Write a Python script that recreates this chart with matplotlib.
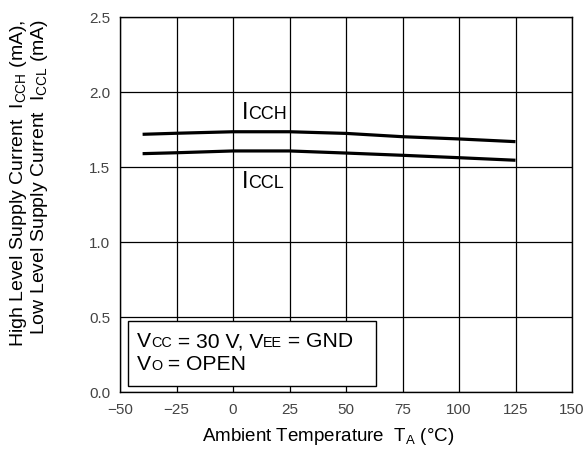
import matplotlib
matplotlib.use("Agg")
import matplotlib.pyplot as plt
from matplotlib.patches import Rectangle
from matplotlib.offsetbox import TextArea, HPacker, VPacker, AnchoredOffsetbox

plt.rcParams["font.family"] = ["Liberation Sans", "DejaVu Sans"]
plt.rcParams["mathtext.fontset"] = "custom"
plt.rcParams["mathtext.rm"] = "Liberation Sans"

# Datos
temp = [-40, -25, 0, 25, 50, 75, 100, 125]
icch = [1.718, 1.725, 1.735, 1.735, 1.724, 1.702, 1.687, 1.669]
iccl = [1.589, 1.595, 1.607, 1.607, 1.593, 1.578, 1.562, 1.545]

x_ticks = [-50, -25, 0, 25, 50, 75, 100, 125, 150]
y_ticks = [0.0, 0.5, 1.0, 1.5, 2.0, 2.5]

fig = plt.figure(figsize=(5.87, 4.64), dpi=100)
ax = fig.add_axes([120 / 587, 71 / 464, 452 / 587, 375 / 464])

ax.plot(temp, icch, color="black", lw=2.3, solid_capstyle="butt", zorder=3)
ax.plot(temp, iccl, color="black", lw=2.3, solid_capstyle="butt", zorder=3)

ax.set_xlim(-50, 150)
ax.set_ylim(0, 2.5)
ax.set_xticks(x_ticks)
ax.set_yticks(y_ticks)
ax.set_xticklabels([str(t).replace("-", "\u2212") for t in x_ticks])
ax.set_yticklabels([f"{v:.1f}" for v in y_ticks])
ax.tick_params(length=0, pad=7, labelsize=11, labelcolor="#444444")
ax.grid(True, color="black", lw=0.9)
for s in ax.spines.values():
    s.set_linewidth(1.0)

ax.set_xlabel(r"Ambient Temperature  T$_{\mathregular{A}}$ (°C)", fontsize=13.5)
ax.xaxis.set_label_coords((328 - 120) / 452, -0.088)

fig.text(29 / 587, 1 - 183 / 464,
         "High Level Supply Current  I$_{\\mathregular{CCH}}$ (mA),\n"
         "Low Level Supply Current  I$_{\\mathregular{CCL}}$ (mA)",
         rotation=90, ha="center", va="center", multialignment="right",
         fontsize=14, linespacing=0.95)


def small_label(parts, size=12, ratio=0.72):
    boxes = []
    for txt, small in parts:
        boxes.append(TextArea(txt, textprops=dict(fontsize=size * ratio if small else size,
                                                  color="black")))
    return HPacker(children=boxes, align="baseline", pad=0, sep=0)


lbl_h = AnchoredOffsetbox(loc="lower left",
                          child=small_label([("I", False), ("CCH", True)], 17, 0.76),
                          bbox_to_anchor=(242 / 587, 1 - 124 / 464),
                          bbox_transform=fig.transFigure, frameon=False, pad=0, borderpad=0)
lbl_l = AnchoredOffsetbox(loc="lower left",
                          child=small_label([("I", False), ("CCL", True)], 17, 0.76),
                          bbox_to_anchor=(242 / 587, 1 - 193 / 464),
                          bbox_transform=fig.transFigure, frameon=False, pad=0, borderpad=0)
ax.add_artist(lbl_h)
ax.add_artist(lbl_l)

# Caja de condiciones
ax.add_patch(Rectangle((-46.5, 0.04), 109.8, 0.433, facecolor="white",
                       edgecolor="black", lw=1.0, zorder=4))
line1 = small_label([("V", False), ("CC", True), (" = 30 V, V", False), ("EE", True),
                     (" = GND", False)], 15.2, 0.68)
line2 = small_label([("V", False), ("O", True), (" = OPEN", False)], 15.2, 0.68)
cond = VPacker(children=[line1, line2], align="left", pad=0, sep=3)
box = AnchoredOffsetbox(loc="upper left", child=cond,
                        bbox_to_anchor=(137 / 587, 1 - 332 / 464),
                        bbox_transform=fig.transFigure, frameon=False, pad=0, borderpad=0)
box.set_zorder(5)
ax.add_artist(box)

fig.savefig("out.png", dpi=100)
